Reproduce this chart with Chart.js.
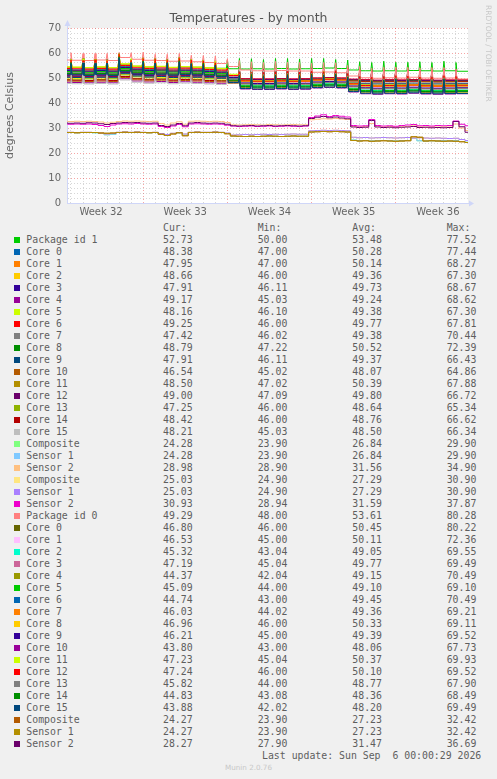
<!DOCTYPE html>
<html>
<head>
<meta charset="utf-8">
<script src="https://cdn.jsdelivr.net/npm/chart.js@4.4.1/dist/chart.umd.min.js"></script>
<style>
  html, body { margin: 0; padding: 0; background: #F0F0F0; }
  #page { position: relative; width: 497px; height: 779px; overflow: hidden; background: #F0F0F0; }
  #plot { position: absolute; left: 0; top: 0; width: 497px; height: 222px; }
  .txt { position: absolute; font-family: 'DejaVu Sans Mono', monospace; font-size: 9.85px; line-height: 12px; height: 12px; color: #5E5E5E; white-space: pre; }
  .sw { position: absolute; width: 6px; height: 6px; }
  #rrd { position: absolute; left: 483px; top: 5px; writing-mode: vertical-rl; font-family: 'DejaVu Sans', sans-serif; font-size: 7.5px; line-height: 10px; color: #C8C8C8; white-space: pre; }
  #munin { position: absolute; left: 0; width: 497px; top: 762px; text-align: center; font-family: 'DejaVu Sans', sans-serif; font-size: 7.2px; line-height: 12px; color: #C8C8C8; }
</style>
</head>
<body>
<div id="page">
  <div id="plot"><canvas id="chart"></canvas></div>
  <div id="rrd">RRDTOOL / TOBI OETIKER</div>
  <div id="legend"></div>
  <div id="munin">Munin 2.0.76</div>
</div>
<script>
// x axis is in days, counted from Monday of week 32 (00:00)
const weekLabels = ['Week 32', 'Week 33', 'Week 34', 'Week 35', 'Week 36'];
const weekMidDays = [3.5, 10.5, 17.5, 24.5, 31.5];

// legend rows
const seriesNames = ['Package id 1', 'Core 0', 'Core 1', 'Core 2', 'Core 3', 'Core 4', 'Core 5', 'Core 6', 'Core 7', 'Core 8', 'Core 9', 'Core 10', 'Core 11', 'Core 12', 'Core 13', 'Core 14', 'Core 15',
  'Composite', 'Sensor 1', 'Sensor 2', 'Composite', 'Sensor 1', 'Sensor 2',
  'Package id 0', 'Core 0', 'Core 1', 'Core 2', 'Core 3', 'Core 4', 'Core 5', 'Core 6', 'Core 7', 'Core 8', 'Core 9', 'Core 10', 'Core 11', 'Core 12', 'Core 13', 'Core 14', 'Core 15',
  'Composite', 'Sensor 1', 'Sensor 2'];
const seriesColors = ['#00CC00', '#0066B3', '#FF8000', '#FFCC00', '#330099', '#990099', '#CCFF00', '#FF0000', '#808080', '#008F00', '#00487D', '#B35A00', '#B38F00', '#6B006B', '#8FB300', '#B30000', '#BEBEBE',
  '#80FF80', '#80C9FF', '#FFC080', '#FFE680', '#AA80FF', '#EE00CC',
  '#FF8080', '#666600', '#FFBFFF', '#00FFCC', '#CC6699', '#999900', '#00CC00', '#0066B3', '#FF8000', '#FFCC00', '#330099', '#990099', '#CCFF00', '#FF0000', '#808080', '#008F00', '#00487D',
  '#B35A00', '#B38F00', '#6B006B'];
const curVals = [52.73, 48.38, 47.95, 48.66, 47.91, 49.17, 48.16, 49.25, 47.42, 48.79, 47.91, 46.54, 48.50, 49.00, 47.25, 48.42, 48.21, 24.28, 24.28, 28.98, 25.03, 25.03, 30.93,
  49.29, 46.80, 46.53, 45.32, 47.19, 44.37, 45.09, 44.74, 46.03, 46.96, 46.21, 43.80, 47.23, 47.24, 45.82, 44.83, 43.88, 24.27, 24.27, 28.27];
const minVals = [50.00, 47.00, 47.00, 46.00, 46.11, 45.03, 46.10, 46.00, 46.02, 47.22, 46.11, 45.02, 47.02, 47.09, 46.00, 46.00, 45.03, 23.90, 23.90, 28.90, 24.90, 24.90, 28.94,
  48.00, 46.00, 45.00, 43.04, 45.04, 42.04, 44.00, 43.00, 44.02, 46.00, 45.00, 43.00, 45.04, 46.00, 44.00, 43.08, 42.02, 23.90, 23.90, 27.90];
const avgVals = [53.48, 50.28, 50.14, 49.36, 49.73, 49.24, 49.38, 49.77, 49.38, 50.52, 49.37, 48.07, 50.39, 49.80, 48.64, 48.76, 48.50, 26.84, 26.84, 31.56, 27.29, 27.29, 31.59,
  53.61, 50.45, 50.11, 49.05, 49.77, 49.15, 49.10, 49.45, 49.36, 50.33, 49.39, 48.06, 50.37, 50.10, 48.77, 48.36, 48.20, 27.23, 27.23, 31.47];
const maxVals = [77.52, 77.44, 68.27, 67.30, 68.67, 68.62, 67.30, 67.81, 70.44, 72.39, 66.43, 64.86, 67.88, 66.72, 65.34, 66.62, 66.34, 29.90, 29.90, 34.90, 30.90, 30.90, 37.87,
  80.28, 80.22, 72.36, 69.55, 69.49, 70.49, 69.10, 70.49, 69.21, 69.11, 69.52, 67.73, 69.93, 69.52, 67.90, 68.49, 69.49, 32.42, 32.42, 36.69];

// CPU temps: one baseline value per day (days 0..33, read at midday)
// and the height of the short daily spike at midnight (days 1..33)
const pkg1Base = [54.3, 54.2, 54.1, 54.3, 54.1, 55.4, 54.7, 54.4, 54.5, 54.2, 54.4, 54.3, 54.1, 53.9, 53.7, 53.6, 53.7, 53.6, 53.8, 53.6, 53.7, 53.8, 54.0, 53.8, 53.2, 52.9, 52.8, 52.9, 52.8, 53.0, 52.9, 52.8, 52.9, 52.7];
const pkg1Spike = [3.5, 3.2, 3.0, 3.4, 4.0, 2.8, 3.6, 3.0, 3.4, 3.8, 3.0, 3.2, 3.0, 3.5, 4.2, 4.0, 3.8, 4.0, 4.2, 3.9, 4.0, 3.8, 3.6, 4.0, 3.6, 3.4, 3.8, 3.5, 3.3, 3.6, 3.4, 3.8, 3.5];
const pkg0Base = [57.2, 57.1, 57.0, 57.2, 57.0, 58.2, 57.5, 57.1, 57.0, 56.7, 56.8, 56.5, 56.2, 55.8, 54.6, 53.2, 52.9, 52.8, 53.0, 52.8, 52.8, 52.3, 52.4, 52.1, 50.8, 50.1, 49.9, 50.1, 50.0, 50.3, 50.0, 49.9, 50.0, 49.6];
const pkg0Spike = [3.0, 2.8, 2.6, 2.8, 2.0, 2.6, 3.2, 2.5, 2.8, 3.0, 2.6, 2.8, 3.0, 3.0, 3.8, 3.6, 3.4, 3.6, 3.5, 3.4, 3.6, 3.8, 4.0, 4.2, 4.5, 4.0, 4.2, 4.4, 4.0, 4.1, 4.3, 4.2, 4.0];

const pkg1CoreBase = [
  [51.4, 51.3, 51.2, 51.4, 51.2, 52.8, 51.9, 51.5, 51.7, 51.3, 51.6, 51.4, 51.2, 51.0, 50.0, 48.9, 48.8, 48.8, 49.0, 48.8, 48.9, 49.2, 49.4, 49.2, 48.7, 48.5, 48.3, 48.5, 48.4, 48.6, 48.4, 48.3, 48.4, 48.5],
  [51.3, 51.2, 51.1, 51.3, 51.1, 52.7, 51.8, 51.4, 51.6, 51.2, 51.5, 51.3, 51.1, 50.9, 49.7, 48.5, 48.4, 48.4, 48.6, 48.4, 48.5, 48.8, 49.0, 48.8, 48.3, 48.1, 47.9, 48.1, 48.0, 48.2, 48.0, 47.9, 48.0, 48.1],
  [50.0, 49.9, 49.8, 50.0, 49.8, 51.4, 50.5, 50.1, 50.3, 49.9, 50.2, 50.0, 49.8, 49.6, 49.4, 49.2, 49.1, 49.1, 49.3, 49.1, 49.2, 49.5, 49.7, 49.5, 49.0, 48.8, 48.6, 48.8, 48.7, 48.9, 48.7, 48.6, 48.7, 48.8],
  [50.7, 50.6, 50.5, 50.7, 50.5, 52.1, 51.2, 50.8, 51.0, 50.6, 50.9, 50.7, 50.5, 50.3, 49.4, 48.4, 48.3, 48.3, 48.5, 48.3, 48.4, 48.7, 48.9, 48.7, 48.2, 48.0, 47.8, 48.0, 47.9, 48.1, 47.9, 47.8, 47.9, 48.0],
  [48.3, 48.2, 48.1, 48.3, 48.1, 49.7, 48.8, 48.4, 48.6, 48.2, 48.5, 48.3, 48.1, 47.9, 48.8, 49.7, 49.6, 49.6, 49.8, 49.6, 49.7, 50.0, 50.2, 50.0, 49.5, 49.3, 49.1, 49.3, 49.2, 49.4, 49.2, 49.1, 49.2, 49.3],
  [50.1, 50.0, 49.9, 50.1, 49.9, 51.5, 50.6, 50.2, 50.4, 50.0, 50.3, 50.1, 49.9, 49.7, 49.2, 48.7, 48.6, 48.6, 48.8, 48.6, 48.7, 49.0, 49.2, 49.0, 48.5, 48.3, 48.1, 48.3, 48.2, 48.4, 48.2, 48.1, 48.2, 48.3],
  [50.8, 50.7, 50.6, 50.8, 50.6, 52.2, 51.3, 50.9, 51.1, 50.7, 51.0, 50.8, 50.6, 50.4, 50.0, 49.7, 49.6, 49.6, 49.8, 49.6, 49.7, 50.0, 50.2, 50.0, 49.5, 49.3, 49.1, 49.3, 49.2, 49.4, 49.2, 49.1, 49.2, 49.3],
  [50.4, 50.3, 50.2, 50.4, 50.2, 51.8, 50.9, 50.5, 50.7, 50.3, 50.6, 50.4, 50.2, 50.0, 49.0, 47.9, 47.8, 47.8, 48.0, 47.8, 47.9, 48.2, 48.4, 48.2, 47.7, 47.5, 47.3, 47.5, 47.4, 47.6, 47.4, 47.3, 47.4, 47.5],
  [52.1, 52.0, 51.9, 52.1, 51.9, 53.5, 52.6, 52.2, 52.4, 52.0, 52.3, 52.1, 51.9, 51.7, 50.5, 49.3, 49.2, 49.2, 49.4, 49.2, 49.3, 49.6, 49.8, 49.6, 49.1, 48.9, 48.7, 48.9, 48.8, 49.0, 48.8, 48.7, 48.8, 48.9],
  [50.3, 50.2, 50.1, 50.3, 50.1, 51.7, 50.8, 50.4, 50.6, 50.2, 50.5, 50.3, 50.1, 49.9, 49.2, 48.4, 48.3, 48.3, 48.5, 48.3, 48.4, 48.7, 48.9, 48.7, 48.2, 48.0, 47.8, 48.0, 47.9, 48.1, 47.9, 47.8, 47.9, 48.0],
  [48.8, 48.7, 48.6, 48.8, 48.6, 50.2, 49.3, 48.9, 49.1, 48.7, 49.0, 48.8, 48.6, 48.4, 47.8, 47.1, 47.0, 47.0, 47.2, 47.0, 47.1, 47.4, 47.6, 47.4, 46.9, 46.7, 46.5, 46.7, 46.6, 46.8, 46.6, 46.5, 46.6, 46.7],
  [51.7, 51.6, 51.5, 51.7, 51.5, 53.1, 52.2, 51.8, 52.0, 51.6, 51.9, 51.7, 51.5, 51.3, 50.2, 49.0, 48.9, 48.9, 49.1, 48.9, 49.0, 49.3, 49.5, 49.3, 48.8, 48.6, 48.4, 48.6, 48.5, 48.7, 48.5, 48.4, 48.5, 48.6],
  [50.9, 50.8, 50.7, 50.9, 50.7, 52.3, 51.4, 51.0, 51.2, 50.8, 51.1, 50.9, 50.7, 50.5, 50.0, 49.5, 49.4, 49.4, 49.6, 49.4, 49.5, 49.8, 50.0, 49.8, 49.3, 49.1, 48.9, 49.1, 49.0, 49.2, 49.0, 48.9, 49.0, 49.1],
  [49.4, 49.3, 49.2, 49.4, 49.2, 50.8, 49.9, 49.5, 49.7, 49.3, 49.6, 49.4, 49.2, 49.0, 48.4, 47.7, 47.6, 47.6, 47.8, 47.6, 47.7, 48.0, 48.2, 48.0, 47.5, 47.3, 47.1, 47.3, 47.2, 47.4, 47.2, 47.1, 47.2, 47.3],
  [49.2, 49.1, 49.0, 49.2, 49.0, 50.6, 49.7, 49.3, 49.5, 49.1, 49.4, 49.2, 49.0, 48.8, 48.9, 48.9, 48.8, 48.8, 49.0, 48.8, 48.9, 49.2, 49.4, 49.2, 48.7, 48.5, 48.3, 48.5, 48.4, 48.6, 48.4, 48.3, 48.4, 48.5],
  [47.8, 47.7, 47.6, 47.8, 47.6, 49.2, 48.3, 47.9, 48.1, 47.7, 48.0, 47.8, 47.6, 47.4, 48.0, 48.6, 48.5, 48.5, 48.7, 48.5, 48.6, 48.9, 49.1, 48.9, 48.4, 48.2, 48.0, 48.2, 48.1, 48.3, 48.1, 48.0, 48.1, 48.2]
];
const pkg1CoreSpike = [
  [4, 4.5, 3.5, 4, 5, 3.5, 4.5, 3.5, 4, 4.5, 3.5, 4, 3.5, 3, 4, 4, 3.5, 4, 4, 3.5, 3.5, 3.5, 4, 4.5, 3.5, 3.5, 4, 4, 3.5, 3.5, 4, 4, 3.5],
  [5, 5.5, 4.5, 5, 5.5, 4.5, 5.5, 4, 5, 5.5, 4.5, 5, 4.5, 4, 4.5, 4.5, 4, 4.5, 5, 4.5, 4, 4, 4.5, 5, 4.5, 4, 4.5, 5, 4, 4, 4.5, 5, 4],
  [3, 3.5, 3, 3, 4, 3, 3.5, 3, 3, 3.5, 3, 3, 2.5, 2.5, 3, 3, 3, 3, 3.5, 3, 3, 2.5, 3, 3.5, 3, 3, 3, 3.5, 3, 3, 3, 3.5, 3],
  [4.5, 4, 4, 4.5, 5.5, 4, 5, 4, 4.5, 5, 4, 4.5, 4, 3.5, 3.5, 4, 4, 3.5, 4.5, 4, 3.5, 4, 3.5, 4, 4, 3.5, 3.5, 4.5, 4, 3.5, 3.5, 4.5, 4],
  [3.5, 4, 4, 3.5, 4.5, 3, 4, 3.5, 3.5, 4, 4, 3.5, 3, 3.5, 3, 3.5, 3, 3.5, 3.5, 3, 3, 3, 3.5, 4, 3, 3.5, 3.5, 3.5, 3, 3, 3.5, 3.5, 3],
  [5.5, 5, 5, 5.5, 6, 5, 6, 4.5, 5.5, 6, 5, 5.5, 5, 4.5, 5, 5, 4.5, 5, 5.5, 5, 4.5, 4.5, 5, 5.5, 5, 4.5, 5, 5.5, 4.5, 4.5, 5, 5.5, 4.5],
  [4.5, 5, 4, 4.5, 5, 4, 5, 4, 4.5, 5, 4, 4.5, 4, 3.5, 4, 4.5, 4, 4, 4.5, 4, 4, 3.5, 4, 4.5, 4, 4, 4, 4.5, 4, 3.5, 4, 4.5, 4],
  [3.5, 3, 3.5, 3, 4.5, 3.5, 3, 3.5, 3.5, 3, 3.5, 3.5, 3, 3, 3.5, 3, 3.5, 3, 3, 3.5, 3, 3, 3.5, 3, 3.5, 3, 3, 3, 3.5, 3, 3, 3, 3.5],
  [5, 4.5, 5, 5.5, 5.5, 4, 5, 4.5, 5.5, 5, 4.5, 4.5, 5, 4.5, 4, 4.5, 4.5, 4, 4.5, 4.5, 4.5, 4, 4, 4.5, 4, 4.5, 4, 4.5, 4.5, 4, 4, 4.5, 4.5],
  [4, 4, 4.5, 3.5, 5, 4, 4, 4, 3.5, 4.5, 4, 3.5, 4, 3.5, 3.5, 3.5, 4, 3.5, 4, 4, 3.5, 3.5, 3.5, 4, 4, 3.5, 3.5, 4, 4, 3.5, 3.5, 4, 4],
  [4.5, 5, 4.5, 5, 5.5, 4.5, 5, 4.5, 4.5, 5, 4.5, 5, 4.5, 4, 4.5, 4, 4.5, 4.5, 4.5, 4, 4.5, 4, 4.5, 4.5, 4, 4, 4.5, 4.5, 4, 4.5, 4, 4.5, 4],
  [3.5, 4, 3, 3.5, 4.5, 3, 4, 3, 3.5, 4, 3, 3.5, 3, 3, 3.5, 3.5, 3, 3.5, 3.5, 3, 3, 3, 3.5, 4, 3, 3, 3.5, 3.5, 3, 3, 3.5, 3.5, 3],
  [4, 4.5, 4, 4, 5, 4, 4.5, 4, 4, 4.5, 4, 4, 3.5, 3.5, 4, 4, 4, 4, 4.5, 4, 4, 3.5, 4, 4.5, 4, 4, 4, 4.5, 4, 4, 4, 4.5, 4],
  [5.5, 5.5, 5, 5, 6, 5, 5.5, 5, 5.5, 5.5, 5, 5, 4.5, 4.5, 5, 5, 4.5, 5, 5, 4.5, 4.5, 4.5, 5, 5, 4.5, 4.5, 5, 5, 4.5, 4.5, 5, 5, 4.5],
  [5, 5, 5.5, 5, 6, 5, 5.5, 5, 5, 5.5, 5, 5, 5, 4.5, 4.5, 4.5, 4.5, 4.5, 5, 4.5, 4.5, 4, 4.5, 5, 4.5, 4.5, 4.5, 5, 4.5, 4.5, 4.5, 5, 4.5],
  [6, 6, 5.5, 6, 6.5, 5.5, 6, 5.5, 6, 6, 5.5, 5.5, 5.5, 5, 5, 5, 4.5, 5, 5, 4.5, 4.5, 4.5, 5, 5, 4.5, 4.5, 4.5, 5, 4.5, 4.5, 4.5, 5, 4.5]
];
const pkg0CoreBase = [
  [54.1, 54.0, 53.8, 54.1, 53.8, 55.3, 54.4, 54.1, 54.3, 53.9, 54.2, 54.0, 53.7, 53.4, 51.0, 48.6, 48.4, 48.4, 48.6, 48.4, 48.5, 49.0, 49.2, 49.0, 47.4, 46.7, 46.5, 46.7, 46.6, 46.9, 46.6, 46.5, 46.6, 46.7],
  [53.9, 53.8, 53.6, 53.9, 53.6, 55.1, 54.2, 53.9, 54.1, 53.7, 54.0, 53.8, 53.5, 53.2, 50.8, 48.3, 48.1, 48.1, 48.3, 48.1, 48.2, 48.7, 48.9, 48.7, 47.1, 46.4, 46.2, 46.4, 46.3, 46.6, 46.3, 46.2, 46.3, 46.4],
  [52.8, 52.7, 52.5, 52.8, 52.5, 54.0, 53.1, 52.8, 53.0, 52.6, 52.9, 52.7, 52.4, 52.1, 49.6, 47.1, 46.9, 46.9, 47.1, 46.9, 47.0, 47.5, 47.7, 47.5, 45.9, 45.2, 45.0, 45.2, 45.1, 45.4, 45.1, 45.0, 45.1, 45.2],
  [53.2, 53.1, 52.9, 53.2, 52.9, 54.4, 53.5, 53.2, 53.4, 53.0, 53.3, 53.1, 52.8, 52.5, 50.8, 49.0, 48.8, 48.8, 49.0, 48.8, 48.9, 49.4, 49.6, 49.4, 47.8, 47.1, 46.9, 47.1, 47.0, 47.3, 47.0, 46.9, 47.0, 47.1],
  [52.7, 52.6, 52.4, 52.7, 52.4, 53.9, 53.0, 52.7, 52.9, 52.5, 52.8, 52.6, 52.3, 52.0, 49.1, 46.2, 46.0, 46.0, 46.2, 46.0, 46.1, 46.6, 46.8, 46.6, 45.0, 44.3, 44.1, 44.3, 44.2, 44.5, 44.2, 44.1, 44.2, 44.3],
  [52.6, 52.5, 52.3, 52.6, 52.3, 53.8, 52.9, 52.6, 52.8, 52.4, 52.7, 52.5, 52.2, 51.9, 49.4, 46.9, 46.7, 46.7, 46.9, 46.7, 46.8, 47.3, 47.5, 47.3, 45.7, 45.0, 44.8, 45.0, 44.9, 45.2, 44.9, 44.8, 44.9, 45.0],
  [53.4, 53.3, 53.1, 53.4, 53.1, 54.6, 53.7, 53.4, 53.6, 53.2, 53.5, 53.3, 53.0, 52.7, 49.6, 46.5, 46.3, 46.3, 46.5, 46.3, 46.4, 46.9, 47.1, 46.9, 45.3, 44.6, 44.4, 44.6, 44.5, 44.8, 44.5, 44.4, 44.5, 44.6],
  [53.1, 53.0, 52.8, 53.1, 52.8, 54.3, 53.4, 53.1, 53.3, 52.9, 53.2, 53.0, 52.7, 52.4, 50.1, 47.8, 47.6, 47.6, 47.8, 47.6, 47.7, 48.2, 48.4, 48.2, 46.6, 45.9, 45.7, 45.9, 45.8, 46.1, 45.8, 45.7, 45.8, 45.9],
  [54.4, 54.3, 54.1, 54.4, 54.1, 55.6, 54.7, 54.4, 54.6, 54.2, 54.5, 54.3, 54.0, 53.7, 51.2, 48.7, 48.5, 48.5, 48.7, 48.5, 48.6, 49.1, 49.3, 49.1, 47.5, 46.8, 46.6, 46.8, 46.7, 47.0, 46.7, 46.6, 46.7, 46.8],
  [53.0, 52.9, 52.7, 53.0, 52.7, 54.2, 53.3, 53.0, 53.2, 52.8, 53.1, 52.9, 52.6, 52.3, 50.2, 48.0, 47.8, 47.8, 48.0, 47.8, 47.9, 48.4, 48.6, 48.4, 46.8, 46.1, 45.9, 46.1, 46.0, 46.3, 46.0, 45.9, 46.0, 46.1],
  [51.5, 51.4, 51.2, 51.5, 51.2, 52.7, 51.8, 51.5, 51.7, 51.3, 51.6, 51.4, 51.1, 50.8, 48.2, 45.6, 45.4, 45.4, 45.6, 45.4, 45.5, 46.0, 46.2, 46.0, 44.4, 43.7, 43.5, 43.7, 43.6, 43.9, 43.6, 43.5, 43.6, 43.7],
  [54.5, 54.4, 54.2, 54.5, 54.2, 55.7, 54.8, 54.5, 54.7, 54.3, 54.6, 54.4, 54.1, 53.8, 51.5, 49.1, 48.9, 48.9, 49.1, 48.9, 49.0, 49.5, 49.7, 49.5, 47.9, 47.2, 47.0, 47.2, 47.1, 47.4, 47.1, 47.0, 47.1, 47.2],
  [53.8, 53.7, 53.5, 53.8, 53.5, 55.0, 54.1, 53.8, 54.0, 53.6, 53.9, 53.7, 53.4, 53.1, 51.0, 48.9, 48.7, 48.7, 48.9, 48.7, 48.8, 49.3, 49.5, 49.3, 47.7, 47.0, 46.8, 47.0, 46.9, 47.2, 46.9, 46.8, 46.9, 47.1],
  [52.1, 52.0, 51.8, 52.1, 51.8, 53.3, 52.4, 52.1, 52.3, 51.9, 52.2, 52.0, 51.7, 51.4, 49.5, 47.6, 47.4, 47.4, 47.6, 47.4, 47.5, 48.0, 48.2, 48.0, 46.4, 45.7, 45.5, 45.7, 45.6, 45.9, 45.6, 45.5, 45.6, 45.7],
  [51.8, 51.7, 51.5, 51.8, 51.5, 53.0, 52.1, 51.8, 52.0, 51.6, 51.9, 51.7, 51.4, 51.1, 48.9, 46.6, 46.4, 46.4, 46.6, 46.4, 46.5, 47.0, 47.2, 47.0, 45.4, 44.7, 44.5, 44.7, 44.6, 44.9, 44.6, 44.5, 44.6, 44.7],
  [51.3, 51.2, 51.0, 51.3, 51.0, 52.5, 51.6, 51.3, 51.5, 51.1, 51.4, 51.2, 50.9, 50.6, 48.2, 45.8, 45.6, 45.6, 45.8, 45.6, 45.7, 46.2, 46.4, 46.2, 44.6, 43.9, 43.7, 43.9, 43.8, 44.1, 43.8, 43.7, 43.8, 43.8]
];
const pkg0CoreSpike = [
  [3.5, 4, 3.5, 3.5, 4.5, 3, 4, 3.5, 3.5, 4, 3.5, 3.5, 3, 3, 4, 4, 3.5, 4, 4, 3.5, 3.5, 3.5, 4, 4.5, 4, 3.5, 4, 4, 3.5, 3.5, 4, 4, 3.5],
  [3, 3.5, 3, 3.5, 4, 3, 3.5, 3, 3, 3.5, 3, 3, 3, 2.5, 3.5, 3.5, 3, 3.5, 3.5, 3, 3, 3, 3.5, 4, 3.5, 3, 3.5, 3.5, 3, 3, 3.5, 3.5, 3],
  [4, 4.5, 4, 4, 5, 3.5, 4.5, 4, 4, 4.5, 4, 4, 3.5, 3.5, 4.5, 4.5, 4, 4.5, 4.5, 4, 4, 4, 4.5, 5, 4.5, 4, 4.5, 4.5, 4, 4, 4.5, 4.5, 4],
  [3.5, 3.5, 3, 3.5, 4.5, 3.5, 3.5, 3, 3.5, 3.5, 3, 3.5, 3, 3, 3.5, 3.5, 3.5, 3.5, 3.5, 3, 3.5, 3, 3.5, 4, 3.5, 3.5, 3.5, 4, 3.5, 3, 3.5, 4, 3.5],
  [4.5, 4.5, 4, 4.5, 5, 4, 4.5, 4, 4.5, 4.5, 4, 4.5, 4, 3.5, 5, 5, 4.5, 5, 5, 4.5, 4.5, 4.5, 5, 5.5, 5, 4.5, 5, 5, 4.5, 4.5, 5, 5, 4.5],
  [4, 4, 3.5, 4, 4.5, 3.5, 4, 3.5, 4, 4, 3.5, 4, 3.5, 3, 4.5, 4.5, 4, 4.5, 4.5, 4, 4, 4, 4.5, 5, 4.5, 4, 4.5, 4.5, 4, 4, 4.5, 4.5, 4],
  [3, 3.5, 3, 3, 4, 3, 3.5, 3, 3, 3.5, 3, 3, 2.5, 2.5, 4, 4.5, 4, 4.5, 4.5, 4, 4, 4, 4.5, 5, 4.5, 4, 4.5, 4.5, 4, 4, 4.5, 4.5, 4],
  [3.5, 4, 3.5, 3.5, 4.5, 3.5, 4, 3, 3.5, 4, 3.5, 3.5, 3, 3, 3.5, 4, 3.5, 3.5, 4, 3.5, 3.5, 3, 3.5, 4, 3.5, 3.5, 3.5, 4, 3.5, 3.5, 3.5, 4, 3.5],
  [3, 3, 2.5, 3, 3.5, 2.5, 3, 2.5, 3, 3, 2.5, 3, 2.5, 2.5, 3, 3, 3, 3, 3.5, 3, 3, 3, 3, 3.5, 3, 3, 3, 3.5, 3, 3, 3, 3.5, 3],
  [3.5, 4, 3.5, 4, 4.5, 3.5, 4, 3.5, 3.5, 4, 3.5, 3.5, 3.5, 3, 4, 4, 3.5, 4, 4, 3.5, 4, 3.5, 4, 4.5, 4, 3.5, 4, 4, 3.5, 3.5, 4, 4, 3.5],
  [4.5, 5, 4.5, 4.5, 5.5, 4.5, 5, 4.5, 4.5, 5, 4.5, 4.5, 4, 4, 5, 5, 4.5, 5, 5, 4.5, 4.5, 4.5, 5, 5.5, 5, 4.5, 5, 5, 4.5, 4.5, 5, 5, 4.5],
  [3, 3.5, 3, 3, 4, 3, 3.5, 3, 3, 3.5, 3, 3, 3, 2.5, 3, 3.5, 3, 3, 3.5, 3, 3, 3, 3, 3.5, 3, 3, 3, 3.5, 3, 3, 3, 3.5, 3],
  [3.5, 3.5, 3.5, 3.5, 4.5, 3, 4, 3.5, 3.5, 4, 3.5, 3.5, 3, 3, 3.5, 3.5, 3.5, 3.5, 4, 3.5, 3.5, 3, 3.5, 4, 3.5, 3.5, 3.5, 4, 3.5, 3.5, 3.5, 4, 3.5],
  [4, 4.5, 4, 4, 5, 4, 4.5, 3.5, 4, 4.5, 4, 4, 3.5, 3.5, 4, 4.5, 4, 4, 4.5, 4, 4, 3.5, 4, 4.5, 4, 4, 4, 4.5, 4, 4, 4, 4.5, 4],
  [4.5, 4.5, 4, 4.5, 5.5, 4, 5, 4, 4.5, 5, 4, 4.5, 4, 3.5, 4.5, 5, 4.5, 4.5, 5, 4.5, 4.5, 4, 4.5, 5, 4.5, 4.5, 4.5, 5, 4.5, 4.5, 4.5, 5, 4.5],
  [4.5, 5, 4.5, 5, 5.5, 4.5, 5, 4.5, 5, 5, 4.5, 4.5, 4.5, 4, 5, 5, 5, 5, 5.5, 5, 5, 4.5, 5, 5.5, 5, 5, 5, 5.5, 5, 5, 5, 5.5, 5]
];

// NVMe temps: one value every half day (0.5, 1.0, ... 34.0); Composite and Sensor 1 read the same
const nvme1Temp = [28.2, 28.2, 28.1, 28.2, 28.2, 28.1, 27.8, 27.3, 27.5, 28.2, 28.3, 28.2, 28.3, 28.2, 28.1, 28.2, 27.6, 27.2, 27.8, 28.1, 27.2, 28.2, 28.3, 28.2, 28.2, 28.3, 28.2, 27.8,
  26.8, 26.6, 26.6, 26.7, 26.6, 26.7, 26.8, 26.7, 26.6, 26.7, 26.8, 26.7, 26.7, 28.5, 28.6, 28.7, 28.6, 28.7, 28.6, 28.5,
  25.2, 24.9, 25.0, 24.8, 24.9, 25.0, 24.9, 24.8, 24.9, 25.0, 25.8, 24.9, 24.8, 24.9, 24.8, 24.9, 24.8, 24.9, 24.6, 24.3];
const nvme1Sensor2 = [32.7, 32.6, 32.7, 32.6, 32.7, 32.6, 32.4, 32.0, 32.3, 32.6, 32.8, 32.7, 32.8, 32.7, 32.6, 32.7, 31.8, 31.2, 32.0, 32.5, 31.5, 32.7, 32.8, 32.7, 32.6, 32.7, 32.6, 32.2,
  31.3, 31.2, 31.3, 31.4, 31.3, 31.2, 31.4, 31.3, 31.2, 31.3, 31.4, 31.3, 31.3, 33.3, 33.5, 33.7, 33.6, 33.8, 33.6, 33.4,
  30.6, 30.5, 30.6, 31.8, 30.7, 30.5, 30.6, 30.4, 30.5, 30.6, 30.9, 30.5, 30.4, 30.5, 30.4, 30.5, 30.4, 31.6, 30.0, 29.0];
const nvme2Temp = [28.3, 28.3, 28.2, 28.3, 28.3, 28.2, 28.0, 27.6, 27.8, 28.3, 28.4, 28.3, 28.4, 28.3, 28.2, 28.3, 27.8, 27.4, 27.9, 28.2, 27.6, 28.3, 28.4, 28.3, 28.3, 28.4, 28.3, 28.0,
  27.2, 27.3, 27.4, 27.3, 27.4, 27.5, 27.4, 27.5, 27.4, 27.5, 27.6, 27.5, 27.5, 28.9, 29.0, 29.1, 29.0, 29.1, 29.0, 28.9,
  26.3, 26.1, 26.2, 26.0, 26.1, 26.2, 26.1, 26.0, 26.1, 26.2, 26.0, 26.1, 26.0, 25.9, 26.0, 25.9, 25.8, 25.9, 25.4, 25.0];
const nvme2Sensor2 = [31.6, 31.5, 31.6, 31.5, 31.6, 31.4, 31.0, 30.6, 31.2, 31.6, 31.7, 31.6, 31.8, 31.6, 31.5, 31.6, 30.6, 30.2, 30.8, 31.4, 30.5, 31.6, 31.7, 31.6, 31.5, 31.6, 31.5, 31.1,
  30.8, 30.6, 30.7, 30.8, 30.6, 30.7, 30.8, 30.6, 30.7, 30.8, 30.7, 30.6, 30.8, 34.2, 34.8, 35.3, 34.6, 35.0, 34.7, 34.4,
  31.0, 30.8, 30.9, 33.4, 31.0, 30.8, 30.9, 30.7, 31.0, 31.2, 31.4, 30.9, 31.0, 30.8, 31.0, 30.9, 31.0, 32.8, 31.5, 30.9];
const nvme3Temp = [28.2, 28.2, 28.1, 28.2, 28.2, 28.2, 28.0, 27.9, 28.0, 28.2, 28.3, 28.2, 28.3, 28.2, 28.1, 28.2, 27.5, 27.0, 27.6, 28.1, 26.9, 28.2, 28.3, 28.2, 28.2, 28.3, 28.2, 27.7,
  26.8, 26.7, 26.6, 26.7, 26.6, 26.7, 26.8, 26.7, 26.6, 26.7, 26.8, 26.7, 26.7, 28.4, 28.5, 28.6, 28.5, 28.6, 28.5, 28.4,
  25.0, 24.8, 24.9, 24.7, 24.8, 24.9, 24.8, 24.7, 24.8, 24.9, 26.5, 26.3, 24.8, 24.9, 24.8, 24.7, 24.8, 24.7, 24.5, 24.2];
const nvme3Sensor2 = [32.0, 31.9, 32.0, 31.9, 32.1, 32.0, 31.7, 31.4, 31.8, 32.0, 32.2, 32.1, 32.2, 32.0, 31.9, 32.0, 31.0, 30.6, 31.2, 31.8, 30.9, 32.0, 32.2, 32.0, 31.9, 32.0, 31.9, 31.5,
  30.9, 30.8, 30.9, 31.0, 30.8, 30.9, 31.0, 30.8, 30.9, 31.0, 30.9, 30.8, 30.9, 33.8, 34.3, 34.6, 34.1, 34.4, 34.0, 33.7,
  30.4, 30.2, 30.3, 33.0, 30.4, 30.2, 30.3, 30.1, 30.3, 30.4, 30.6, 30.2, 30.3, 30.1, 30.2, 30.1, 30.2, 32.6, 30.5, 28.3];

// daily baseline + the midnight spike, as x/y points
function cpuPoints(base, spike) {
  const pts = [];
  for (let i = 0; i < base.length; i++) {
    if (i > 0) pts.push({ x: i + 0.08, y: base[i] });
    pts.push({ x: i + 0.5, y: base[i] });
    if (i + 1 < base.length && spike[i] !== undefined) {
      pts.push({ x: i + 0.92, y: base[i] });
      pts.push({ x: i + 1, y: base[i + 1] + spike[i] });
    }
  }
  pts.push({ x: base.length, y: base[base.length - 1] });
  return pts;
}

function sensorPoints(vals) {
  return vals.map((v, k) => ({ x: 0.5 + 0.5 * k, y: v }));
}

const seriesData = [
  cpuPoints(pkg1Base, pkg1Spike),
  ...pkg1CoreBase.map((b, i) => cpuPoints(b, pkg1CoreSpike[i])),
  sensorPoints(nvme1Temp), sensorPoints(nvme1Temp), sensorPoints(nvme1Sensor2),
  sensorPoints(nvme2Temp), sensorPoints(nvme2Temp), sensorPoints(nvme2Sensor2),
  cpuPoints(pkg0Base, pkg0Spike),
  ...pkg0CoreBase.map((b, i) => cpuPoints(b, pkg0CoreSpike[i])),
  sensorPoints(nvme3Temp), sensorPoints(nvme3Temp), sensorPoints(nvme3Sensor2),
];
const steppedIdx = [17, 18, 19, 20, 21, 22, 40, 41, 42];

const datasets = seriesData.map((pts, i) => ({
  label: seriesNames[i],
  data: pts,
  borderColor: seriesColors[i],
  backgroundColor: seriesColors[i],
  borderWidth: 1,
  pointRadius: 0,
  fill: false,
  stepped: steppedIdx.includes(i) ? 'middle' : false,
  order: -i, // later series on top, like rrdtool
}));

const GRID_MINOR = 'rgba(140,140,140,0.35)';
const GRID_MAJOR = 'rgba(230,0,0,0.35)';
const AXIS = '#CFD6F8';
const FONT_COL = '#666666';

// white canvas behind the plot, axis arrows at the ends
const plotDecor = {
  id: 'plotDecor',
  beforeDraw(chart) {
    const { ctx, chartArea: a } = chart;
    ctx.save();
    ctx.fillStyle = '#FFFFFF';
    ctx.fillRect(a.left, a.top, a.right - a.left, a.bottom - a.top);
    ctx.restore();
  },
  afterDraw(chart) {
    const { ctx, chartArea: a } = chart;
    const x0 = Math.round(a.left) + 0.5;
    const y0 = Math.round(a.bottom) + 0.5;
    ctx.save();
    ctx.strokeStyle = AXIS;
    ctx.fillStyle = AXIS;
    ctx.lineWidth = 1;
    ctx.beginPath();
    ctx.moveTo(x0, a.top); ctx.lineTo(x0, a.top - 4);
    ctx.moveTo(a.right, y0); ctx.lineTo(a.right + 3, y0);
    ctx.stroke();
    ctx.beginPath();
    ctx.moveTo(x0 - 3, a.top - 2); ctx.lineTo(x0 + 3, a.top - 2); ctx.lineTo(x0, a.top - 8); ctx.closePath();
    ctx.fill();
    ctx.beginPath();
    ctx.moveTo(a.right + 1, y0 - 3); ctx.lineTo(a.right + 1, y0 + 3); ctx.lineTo(a.right + 6, y0); ctx.closePath();
    ctx.fill();
    ctx.restore();
  }
};

Chart.defaults.font.family = "'DejaVu Sans', sans-serif";
Chart.defaults.color = FONT_COL;

new Chart(document.getElementById('chart'), {
  type: 'line',
  data: { datasets },
  plugins: [plotDecor],
  options: {
    responsive: true,
    maintainAspectRatio: false,
    animation: false,
    events: [],
    layout: { padding: 0 },
    plugins: {
      legend: { display: false },
      tooltip: { enabled: false },
      title: {
        display: true,
        text: 'Temperatures - by month',
        color: '#555555',
        font: { size: 12.5, weight: 'normal' },
        padding: { top: 11.5, bottom: 1.5 },
      },
    },
    scales: {
      x: {
        type: 'linear',
        min: 0.67,
        max: 34,
        afterBuildTicks: (scale) => {
          const t = [];
          for (let d = 1; d <= 33; d++) t.push({ value: d });
          weekMidDays.forEach((m) => t.push({ value: m }));
          t.sort((a, b) => a.value - b.value);
          scale.ticks = t;
        },
        afterFit: (scale) => { scale.height = 19; },
        ticks: {
          autoSkip: false,
          maxRotation: 0,
          padding: 3,
          font: { size: 10 },
          color: FONT_COL,
          callback: (v) => {
            const k = weekMidDays.indexOf(v);
            return k >= 0 ? weekLabels[k] : '';
          },
        },
        grid: {
          drawTicks: false,
          color: (c) => {
            const v = c.tick ? c.tick.value : 0;
            if (!Number.isInteger(v)) return 'rgba(0,0,0,0)';
            return v % 7 === 0 ? GRID_MAJOR : GRID_MINOR;
          },
        },
        border: { display: true, color: AXIS, dash: [1, 2] },
      },
      y: {
        min: 0,
        max: 70,
        afterFit: (scale) => { scale.width = 67; },
        ticks: {
          stepSize: 2,
          autoSkip: false,
          padding: 6,
          font: { size: 10 },
          color: FONT_COL,
          callback: (v) => (v % 10 === 0 ? String(v) : ''),
        },
        grid: {
          drawTicks: false,
          color: (c) => {
            const v = c.tick ? c.tick.value : 0;
            return v % 10 === 0 ? GRID_MAJOR : GRID_MINOR;
          },
        },
        border: { display: true, color: AXIS, dash: [1, 2] },
        title: {
          display: true,
          text: 'degrees Celsius',
          color: FONT_COL,
          font: { size: 11 },
          padding: { top: 4, bottom: 0 },
        },
      },
      yR: {
        position: 'right',
        display: true,
        afterFit: (scale) => { scale.width = 29; },
        ticks: { display: false },
        grid: { display: false },
        border: { display: false },
      },
    },
  },
});

// rrdtool style legend below the graph
const legend = document.getElementById('legend');
const COL_X = [163, 257.7, 352.3, 446.7];
function addText(text, left, centerY) {
  const d = document.createElement('div');
  d.className = 'txt';
  d.textContent = text;
  d.style.left = left + 'px';
  d.style.top = (centerY - 6) + 'px';
  legend.appendChild(d);
}
['Cur:', 'Min:', 'Avg:', 'Max:'].forEach((h, j) => addText(h, COL_X[j], 227.7));
seriesNames.forEach((name, i) => {
  const cy = 239.7 + 12 * i;
  const sw = document.createElement('div');
  sw.className = 'sw';
  sw.style.left = '14px';
  sw.style.top = (cy - 3) + 'px';
  sw.style.background = seriesColors[i];
  legend.appendChild(sw);
  addText(name, 26.3, cy);
  [curVals[i], minVals[i], avgVals[i], maxVals[i]].forEach((v, j) => addText(v.toFixed(2), COL_X[j], cy));
});
addText('Last update: Sun Sep  6 00:00:29 2026', 262, 755.7);
</script>
</body>
</html>
